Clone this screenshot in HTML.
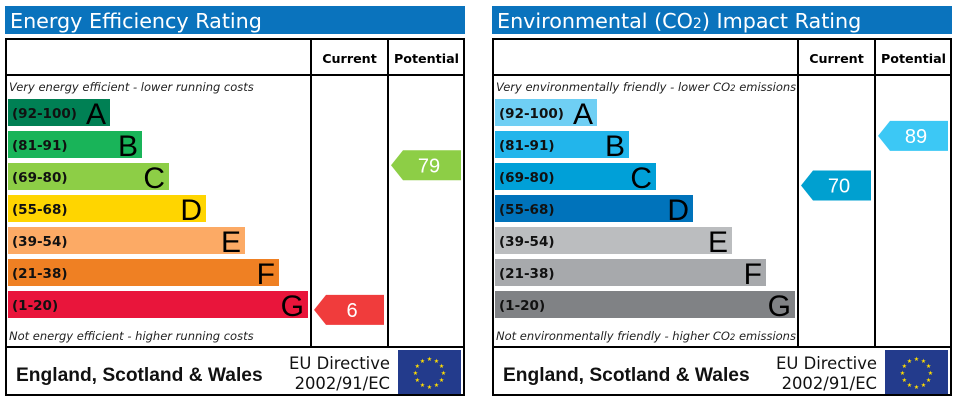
<!DOCTYPE html>
<html><head><meta charset="utf-8"><style>
html,body{margin:0;padding:0;background:#fff;width:957px;height:404px;overflow:hidden}
svg{position:absolute;top:0;left:0}
</style></head><body>
<svg id="c" width="957" height="404" xmlns="http://www.w3.org/2000/svg"></svg>
<script>
const bandRanges = ["(92-100)","(81-91)","(69-80)","(55-68)","(39-54)","(21-38)","(1-20)"];
const bandLetters = ["A","B","C","D","E","F","G"];
const bandMin = [92,81,69,55,39,21,1];
const bandMax = [100,91,80,68,54,38,20];
const bandWidths = [102,134,161,198,237,271,300];
const energyColors = ["#008054","#19b459","#8dce46","#ffd500","#fcaa65","#ef8023","#e9153b"];
const envColors = ["#6fcff4","#22b5eb","#00a0d8","#0073bb","#bbbdbf","#a7a9ac","#808285"];
const energyArrowColors = ["#008054","#19b459","#8dce46","#ffd500","#fcaa65","#ef8023","#f03c3c"];
const envArrowColors = ["#6fcff4","#3cc8f5","#00a0d0","#0073bb","#bbbdbf","#a7a9ac","#808285"];
const energyCurrent = 6;
const energyPotential = 79;
const envCurrent = 70;
const envPotential = 89;

const NS="http://www.w3.org/2000/svg";
const svg=document.getElementById('c');
function el(tag,attrs,parent,text){const e=document.createElementNS(NS,tag);for(const k in attrs)e.setAttribute(k,attrs[k]);if(text!==undefined)e.textContent=text;(parent||svg).appendChild(e);return e;}
const BAND_TOP=99,PITCH=32,BH=27;
function bandIndex(v){for(let i=0;i<bandMin.length;i++){if(v>=bandMin[i])return i;}return bandMin.length-1;}
function valueY(v){const i=bandIndex(v);const f=(bandMax[i]-v)/(bandMax[i]-bandMin[i]+1);return BAND_TOP+i*PITCH+f*BH-15;}

function panel(ox,title,topNote,botNote,colors,arrowColors,cur,pot,prefix){
  const g=el('g',{transform:`translate(${ox},0)`});
  
  
  const tb=el('rect',{x:5,y:6,width:460,height:28,fill:'#0a73bd'},g);
  
  
  const tt=el('text',{x:10,y:28,fill:'#fff','font-family':'DejaVu Sans, sans-serif','font-size':'20.7'},g);
  tt.innerHTML=title;
  
  
  const fr=el('rect',{x:6,y:39,width:458,height:356,fill:'#fff',stroke:'#000','stroke-width':2},g);
  
  
  el('line',{x1:6,y1:75,x2:464,y2:75,stroke:'#000','stroke-width':2},g);
  el('line',{x1:6,y1:347,x2:464,y2:347,stroke:'#000','stroke-width':2},g);
  el('line',{x1:311,y1:39,x2:311,y2:347,stroke:'#000','stroke-width':2},g);
  el('line',{x1:388,y1:39,x2:388,y2:347,stroke:'#000','stroke-width':2},g);
  const h1=el('text',{x:349.5,y:63,'text-anchor':'middle','font-family':'DejaVu Sans, sans-serif','font-size':'12.7','font-weight':'bold'},g,'Current');
  
  
  const h2=el('text',{x:426.5,y:63,'text-anchor':'middle','font-family':'DejaVu Sans, sans-serif','font-size':'12.7','font-weight':'bold'},g,'Potential');
  
  
  const tn=el('text',{x:9,y:91,'font-family':'DejaVu Sans, sans-serif','font-size':'11.5','font-style':'italic',fill:'#222'},g);
  tn.innerHTML=topNote;
  
  
  const bn=el('text',{x:9,y:340,'font-family':'DejaVu Sans, sans-serif','font-size':'11.5','font-style':'italic',fill:'#222'},g);
  bn.innerHTML=botNote;
  
  
  for(let i=0;i<bandLetters.length;i++){
    const y=BAND_TOP+i*PITCH;
    const r=el('rect',{x:8,y:y,width:bandWidths[i],height:BH,fill:colors[i]},g);
    
    
    const t=el('text',{x:12,y:y+19,'font-family':'DejaVu Sans, sans-serif','font-size':'13.5','font-weight':'bold',fill:'#111'},g,bandRanges[i]);
    
    
    const L=el('text',{x:8+bandWidths[i]-4,y:y+25,'text-anchor':'end','font-family':'Liberation Sans, sans-serif','font-size':'30',fill:'#000'},g,bandLetters[i]);
    
    
  }
  function arrow(v,x0,name){
    const y=valueY(v);const c=arrowColors[bandIndex(v)];
    const a=el('polygon',{points:`${x0},${y+15} ${x0+12},${y} ${x0+70},${y} ${x0+70},${y+30} ${x0+12},${y+30}`,fill:c},g);
    
    
    const t=el('text',{x:x0+38,y:y+22,'text-anchor':'middle','font-family':'Liberation Sans, sans-serif','font-size':'20',fill:'#fff'},g,String(v));
    
    
  }
  arrow(cur,314,prefix+'-current');
  arrow(pot,391,prefix+'-potential');
  const ft=el('text',{x:16,y:381,'font-family':'Liberation Sans, sans-serif','font-size':'19.2','font-weight':'bold',fill:'#111'},g,'England, Scotland & Wales');
  
  
  const d1=el('text',{x:390,y:369,'text-anchor':'end','font-family':'DejaVu Sans, sans-serif','font-size':'16.4',fill:'#111'},g,'EU Directive');
  
  
  const d2=el('text',{x:390,y:389,'text-anchor':'end','font-family':'DejaVu Sans, sans-serif','font-size':'16.4',fill:'#111'},g,'2002/91/EC');
  
  
  const fl=el('rect',{x:398,y:350,width:63,height:44,fill:'#233b8c'},g);
  
  
  for(let k=0;k<12;k++){const an=k*Math.PI/6;
    el('text',{x:429.5+14*Math.cos(an),y:375+14*Math.sin(an),'text-anchor':'middle','font-size':'6',fill:'#ffdd00','font-family':'DejaVu Sans, sans-serif'},g,'★');}
}
panel(0,'Energy Efficiency Rating','Very energy efficient - lower running costs','Not energy efficient - higher running costs',energyColors,energyArrowColors,energyCurrent,energyPotential,'energy');
panel(487,'Environmental (CO<tspan font-size="14">2</tspan>) Impact Rating','Very environmentally friendly - lower CO<tspan font-size="8.5">2</tspan> emissions','Not environmentally friendly - higher CO<tspan font-size="8.5">2</tspan> emissions',envColors,envArrowColors,envCurrent,envPotential,'environmental');
</script>
</body></html>
